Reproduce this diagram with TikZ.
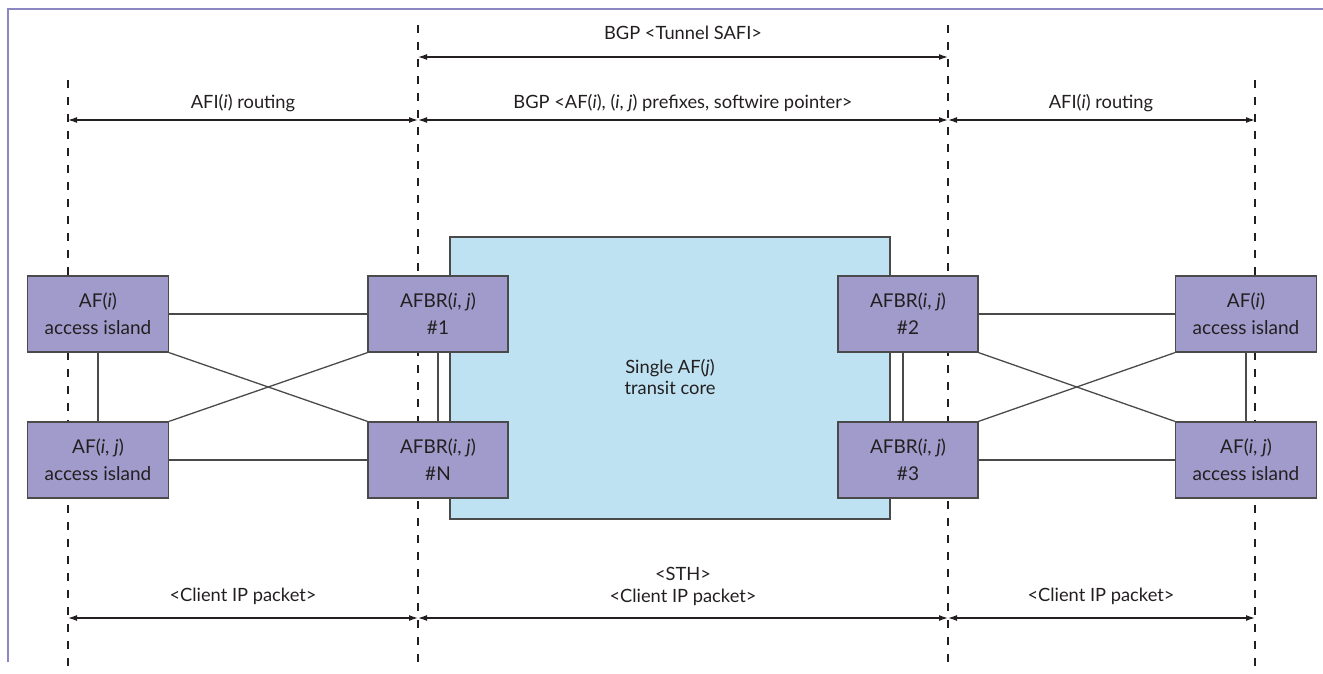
\documentclass[tikz,border=0pt]{standalone}
\usepackage{fontspec}
\setmainfont{Lato}
\usetikzlibrary{arrows.meta}
\definecolor{boxfill}{HTML}{A09BCB}
\definecolor{boxdraw}{HTML}{4A4A4A}
\definecolor{corefill}{HTML}{BEE2F1}
\definecolor{framec}{HTML}{8A87C2}
\definecolor{txt}{HTML}{231F20}
\tikzset{
  afbox/.style={draw=boxdraw, line width=1.3pt, fill=boxfill, minimum width=141pt, minimum height=76pt, inner sep=0pt, align=center, text=txt, font=\fontsize{19}{27}\selectfont},
  corebox/.style={draw=boxdraw, line width=1.1pt, fill=corefill, inner sep=0pt},
  link/.style={draw=boxdraw, line width=1.3pt},
  guide/.style={draw=txt, line width=1.1pt, dash pattern=on 8pt off 9pt},
  span/.style={draw=txt, line width=1.3pt, {Latex[length=9pt,width=6pt]}-{Latex[length=9pt,width=6pt]}},
  lbl/.style={text=txt, font=\fontsize{18.3}{22}\selectfont, inner sep=0pt, align=center},
  framel/.style={draw=framec, line width=1.3pt}
}
\begin{document}
\begin{tikzpicture}[x=1pt,y=-1pt]
\useasboundingbox (0,0) rectangle (1323,674);
% frame
\coordinate (fa) at (8,662);
\coordinate (fb) at (8,9);
\coordinate (fc) at (1323,9);
\draw[framel] (fa) -- (fb) -- (fc);
% guides
\coordinate (g1t) at (68,80);   \coordinate (g1b) at (68,666);
\coordinate (g2t) at (418,25);  \coordinate (g2b) at (418,666);
\coordinate (g3t) at (948,25);  \coordinate (g3b) at (948,666);
\coordinate (g4t) at (1255,80); \coordinate (g4b) at (1255,666);
\draw[guide] (g1t) -- (g1b);
\draw[guide] (g2t) -- (g2b);
\draw[guide] (g3t) -- (g3b);
\draw[guide] (g4t) -- (g4b);
% spans
\coordinate (t2) at (418,57); \coordinate (t3) at (948,57);
\coordinate (r1) at (68,120); \coordinate (r2) at (418,120); \coordinate (r3) at (948,120); \coordinate (r4) at (1255,120);
\coordinate (b1) at (68,618); \coordinate (b2) at (418,618); \coordinate (b3) at (948,618); \coordinate (b4) at (1255,618);
\draw[span] (t2) -- (t3);
\draw[span] (r1) -- (r2);
\draw[span] (r2) -- (r3);
\draw[span] (r3) -- (r4);
\draw[span] (b1) -- (b2);
\draw[span] (b2) -- (b3);
\draw[span] (b3) -- (b4);
\node[lbl] (ltun) at (683,33) {BGP <Tunnel SAFI>};
\node[lbl] (lafi1) at (243,103) {AFI(\textit{i}) routing};
\node[lbl] (lbgp) at (683,103) {BGP <AF(\textit{i}), (\textit{i}, \textit{j}) prefixes, softwire pointer>};
\node[lbl] (lafi2) at (1101,103) {AFI(\textit{i}) routing};
\node[lbl] (lcl1) at (243,596) {<Client IP packet>};
\node[lbl] (lsth) at (683,574) {<STH>};
\node[lbl] (lcl2) at (683,597) {<Client IP packet>};
\node[lbl] (lcl3) at (1101,596) {<Client IP packet>};
% core
\node[corebox, minimum width=440pt, minimum height=282pt] (core) at (670,378) {};
\node[lbl] (coret) at (670,377) {Single AF(\textit{j})\\[-1pt]transit core};
% boxes
\node[afbox] (la) at (98,314) {AF(\textit{i})\\access island};
\node[afbox] (lb) at (98,460) {AF(\textit{i}, \textit{j})\\access island};
\node[afbox, minimum width=140pt] (r1n) at (438,314) {AFBR(\textit{i}, \textit{j})\\\#1};
\node[afbox, minimum width=140pt] (rNn) at (438,460) {AFBR(\textit{i}, \textit{j})\\\#N};
\node[afbox, minimum width=140pt] (r2n) at (908,314) {AFBR(\textit{i}, \textit{j})\\\#2};
\node[afbox, minimum width=140pt] (r3n) at (908,460) {AFBR(\textit{i}, \textit{j})\\\#3};
\node[afbox] (ra) at (1246,314) {AF(\textit{i})\\access island};
\node[afbox] (rb) at (1246,460) {AF(\textit{i}, \textit{j})\\access island};
% links
\draw[link] (la.east) -- (r1n.west);
\draw[link] (lb.east) -- (rNn.west);
\draw[link] (la.south) -- (lb.north);
\draw[link] (la.south east) -- (rNn.north west);
\draw[link] (lb.north east) -- (r1n.south west);
\draw[link] (r1n.south) -- (rNn.north);
\draw[link] (r2n.east) -- (ra.west);
\draw[link] (r3n.east) -- (rb.west);
\draw[link] (ra.south) -- (rb.north);
\draw[link] (r2n.south east) -- (rb.north west);
\draw[link] (r3n.north east) -- (ra.south west);
\draw[link] ([xshift=-5pt]r2n.south) -- ([xshift=-5pt]r3n.north);
\end{tikzpicture}
\end{document}
